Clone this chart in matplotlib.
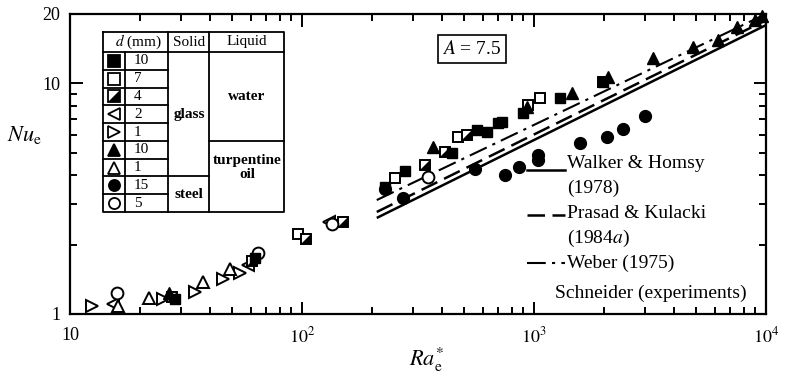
import numpy as np
import matplotlib.pyplot as plt
from matplotlib.ticker import FixedLocator, NullFormatter, FixedFormatter, LogLocator

plt.rcParams['font.family'] = ['Liberation Serif', 'DejaVu Serif']
plt.rcParams['mathtext.fontset'] = 'stix'

# Schneider experiments (Ra*_e, Nu_e)
ra_tri_r = [12.4, 25.2, 34.6, 45.6, 54.0]
nu_tri_r = [1.08, 1.16, 1.25, 1.42, 1.51]
ra_tri_l = [15.3, 58.5, 131]
nu_tri_l = [1.10, 1.63, 2.51]
ra_tri_uo = [16.1, 21.9, 37.4, 49.0]
nu_tri_uo = [1.08, 1.17, 1.38, 1.57]
ra_tri_uf = [26.7, 367, 930, 1459, 2083, 3260, 4840, 6210, 7500, 8970, 9600]
nu_tri_uf = [1.23, 5.30, 7.9, 9.09, 10.7, 12.9, 14.4, 15.4, 17.6, 18.8, 19.6]
ra_sq_f = [28.4, 62.7, 228, 278, 443, 568, 627, 699, 728, 897, 1295, 1983]
nu_sq_f = [1.16, 1.75, 3.55, 4.17, 4.99, 6.28, 6.15, 6.73, 6.80, 7.44, 8.65, 10.1]
ra_sq_o = [96, 252, 470, 942, 1062]
nu_sq_o = [2.22, 3.89, 5.86, 8.06, 8.65]
ra_sq_h = [27.5, 61.0, 104, 150, 339, 413, 514, 1983]
nu_sq_h = [1.18, 1.70, 2.12, 2.51, 4.43, 5.04, 5.97, 10.1]
ra_circ_f = [228, 272, 557, 750, 860, 1040, 1040, 1578, 2064, 2420, 3006]
nu_circ_f = [3.50, 3.18, 4.25, 4.00, 4.35, 4.65, 4.90, 5.52, 5.86, 6.34, 7.22]
ra_circ_o = [16.0, 64.5, 135, 349]
nu_circ_o = [1.23, 1.84, 2.46, 3.93]

# correlations, endpoints of the straight (log-log) lines
ra_corr = [210, 1e4]
nu_walker = [2.61, 17.9]
nu_prasad = [2.77, 18.8]
nu_weber = [3.12, 20.0]

# table rows
d_mm = ['10', '7', '4', '2', '1', '10', '1', '15', '5']

W, H = 791, 373
fig = plt.figure(figsize=(W / 100, H / 100), dpi=100)
ax = fig.add_axes([70 / W, 1 - 314 / H, 696 / W, 300 / H])
ax.set_xscale('log')
ax.set_yscale('log')
ax.set_xlim(10, 1e4)
ax.set_ylim(1, 20)

for s in ax.spines.values():
    s.set_linewidth(1.6)

ax.xaxis.set_major_locator(FixedLocator([10, 100, 1000, 10000]))
ax.xaxis.set_major_formatter(FixedFormatter(['10', r'$10^2$', r'$10^3$', r'$10^4$']))
ax.xaxis.set_minor_locator(LogLocator(base=10, subs=np.arange(2, 10)))
ax.xaxis.set_minor_formatter(NullFormatter())
ax.yaxis.set_major_locator(FixedLocator([1, 10, 20]))
ax.yaxis.set_major_formatter(FixedFormatter(['1', '10', '20']))
ax.yaxis.set_minor_locator(FixedLocator(range(2, 10)))
ax.yaxis.set_minor_formatter(NullFormatter())
ax.tick_params(which='both', direction='in', top=True, right=True, width=1.4, labelsize=13)
ax.tick_params(which='major', length=9)
ax.tick_params(which='minor', length=5)
ax.tick_params(axis='x', pad=9)
ax.tick_params(axis='y', pad=7)

# correlation lines
ax.plot(ra_corr, nu_walker, color='black', lw=1.8, solid_capstyle='butt')
ax.plot(ra_corr, nu_prasad, color='black', lw=1.8, dashes=(7, 3))
ax.plot(ra_corr, nu_weber, color='black', lw=1.5, dashes=(9, 3, 1.5, 3))

half_sq = [(1, 1), (1, -1), (-1, -1)]
kw = dict(ls='none', color='black', mec='black', clip_on=False)
ax.plot(ra_tri_r, nu_tri_r, marker='>', ms=8, mfc='white', mew=1.4, **kw)
ax.plot(ra_tri_l, nu_tri_l, marker='<', ms=8, mfc='white', mew=1.4, **kw)
ax.plot(ra_tri_uo, nu_tri_uo, marker='^', ms=8, mfc='white', mew=1.4, **kw)
ax.plot(ra_sq_o, nu_sq_o, marker='s', ms=7.5, mfc='white', mew=1.4, **kw)
ax.plot(ra_sq_h, nu_sq_h, marker='s', ms=7.5, mfc='white', mew=1.4, **kw)
ax.plot(ra_sq_h, nu_sq_h, marker=half_sq, ms=7.5, mfc='black', mew=0, **kw)
ax.plot(ra_circ_o, nu_circ_o, marker='o', ms=8.5, mfc='white', mew=1.4, **kw)
ax.plot(ra_sq_f, nu_sq_f, marker='s', ms=7.5, mfc='black', **kw)
ax.plot(ra_tri_uf, nu_tri_uf, marker='^', ms=8.5, mfc='black', **kw)
ax.plot(ra_circ_f, nu_circ_f, marker='o', ms=8.5, mfc='black', **kw)

# legend drawn by hand
def fx(px):
    return (px - 70) / 696

def fy(py):
    return (314 - py) / 300

ax.plot([fx(527), fx(565)], [fy(170), fy(170)], transform=ax.transAxes, color='black', lw=1.8)
ax.plot([fx(527), fx(565)], [fy(215), fy(215)], transform=ax.transAxes, color='black', lw=1.8, dashes=(7, 3))
ax.plot([fx(527), fx(565)], [fy(263), fy(263)], transform=ax.transAxes, color='black', lw=1.5, dashes=(9, 3, 1.5, 3))
leg_fs = 14
ax.text(fx(567), fy(163), 'Walker & Homsy', transform=ax.transAxes, fontsize=leg_fs, va='center')
ax.text(fx(567), fy(188), '(1978)', transform=ax.transAxes, fontsize=leg_fs, va='center')
ax.text(fx(567), fy(213), 'Prasad & Kulacki', transform=ax.transAxes, fontsize=leg_fs, va='center')
ax.text(fx(567), fy(238), r'(1984$a$)', transform=ax.transAxes, fontsize=leg_fs, va='center')
ax.text(fx(567), fy(263), 'Weber (1975)', transform=ax.transAxes, fontsize=leg_fs, va='center')
ax.text(fx(555), fy(293), 'Schneider (experiments)', transform=ax.transAxes, fontsize=leg_fs, va='center')

ax.text(fx(472), fy(49), r'$A$ = 7.5', transform=ax.transAxes, fontsize=14, ha='center', va='center',
        bbox=dict(boxstyle='square,pad=0.25', fc='white', ec='black', lw=1.2))

fig.text(24 / W, 1 - 135 / H, r'$Nu_{\rm e}$', fontsize=16, ha='center', va='center')
fig.text(427 / W, 1 - 360 / H, r'$Ra_{\rm e}^{*}$', fontsize=16, ha='center', va='center')

# inset table
tab = fig.add_axes([103 / W, 1 - 212 / H, 181 / W, 180 / H])
tab.set_xlim(0, 181)
tab.set_ylim(180, 0)
tab.axis('off')
head_h = 20
row_h = 160 / 9
cols = [0, 22, 65, 106, 181]
lk = dict(color='black', lw=1.3, clip_on=False)
tab.plot([0, 181, 181, 0, 0], [0, 0, 180, 180, 0], **lk)
tab.plot([0, 181], [head_h, head_h], **lk)
tab.plot([cols[1], cols[1]], [head_h, 180], **lk)
tab.plot([cols[2], cols[2]], [0, 180], **lk)
tab.plot([cols[3], cols[3]], [0, 180], **lk)
for i in range(1, 9):
    tab.plot([0, cols[2]], [head_h + i * row_h] * 2, **lk)
tab.plot([cols[2], cols[3]], [head_h + 7 * row_h] * 2, **lk)
tab.plot([cols[3], cols[4]], [head_h + 5 * row_h] * 2, **lk)

tfs = 11
tab.text(35, head_h / 2, r'$d$ (mm)', fontsize=tfs, ha='center', va='center')
tab.text(86, head_h / 2, 'Solid', fontsize=tfs, ha='center', va='center')
tab.text(144, head_h / 2, 'Liquid', fontsize=tfs, ha='center', va='center')
for i, d in enumerate(d_mm):
    tab.text(31, head_h + (i + 0.5) * row_h, d, fontsize=tfs, ha='left', va='center')
tab.text(86, head_h + 3.5 * row_h, 'glass', fontsize=tfs, ha='center', va='center', fontweight='bold')
tab.text(86, head_h + 8 * row_h, 'steel', fontsize=tfs, ha='center', va='center', fontweight='bold')
tab.text(144, head_h + 2.5 * row_h, 'water', fontsize=tfs, ha='center', va='center', fontweight='bold')
tab.text(144, head_h + 6.5 * row_h, 'turpentine\noil', fontsize=tfs, ha='center', va='center',
         fontweight='bold', linespacing=1.1)

mk = [('s', 'black'), ('s', 'white'), ('s', 'white'), ('<', 'white'), ('>', 'white'),
      ('^', 'black'), ('^', 'white'), ('o', 'black'), ('o', 'white')]
for i, (m, fc) in enumerate(mk):
    yc = head_h + (i + 0.5) * row_h
    tab.plot([11], [yc], marker=m, ms=8, mfc=fc, mec='black', mew=1.3, ls='none', clip_on=False)
    if i == 2:
        tab.plot([11], [yc], marker=half_sq, ms=8, mfc='black', mew=0, ls='none', clip_on=False)

fig.savefig('out.png', dpi=100)
